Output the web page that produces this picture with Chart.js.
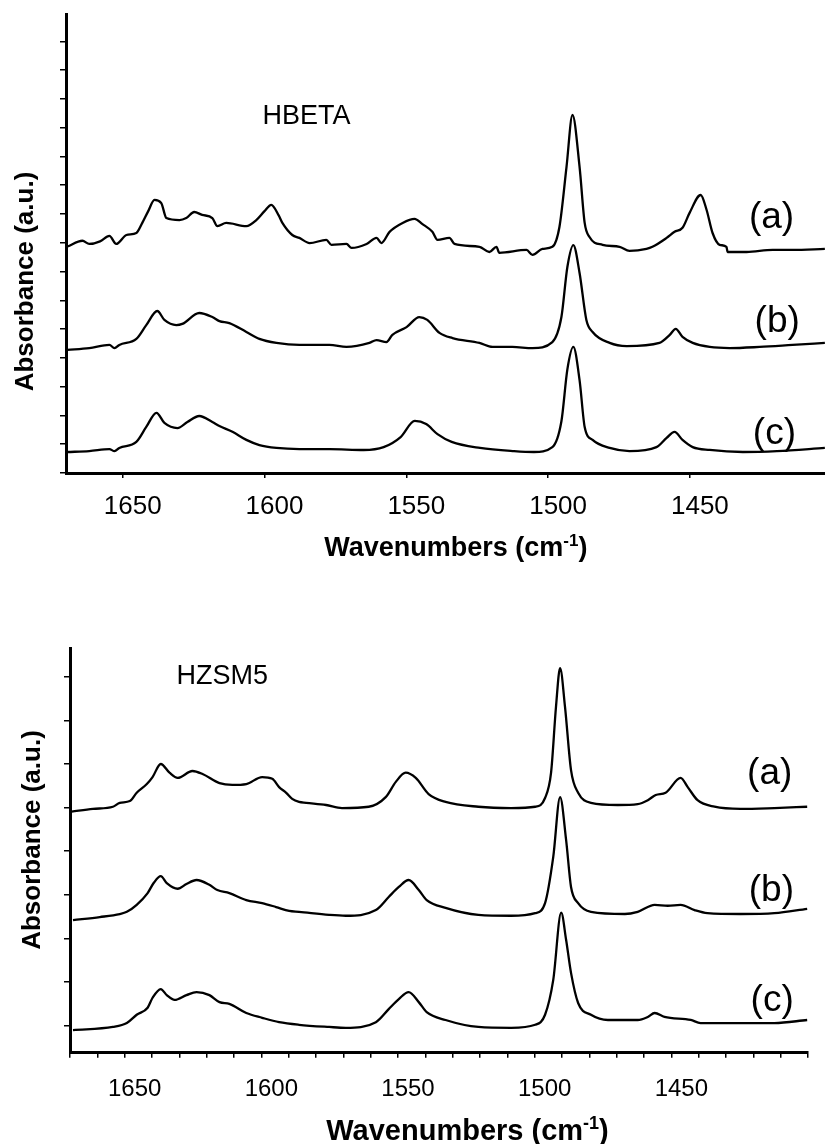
<!DOCTYPE html>
<html>
<head>
<meta charset="utf-8">
<script src="https://cdn.jsdelivr.net/npm/chart.js@4/dist/chart.umd.min.js"></script>
<style>
  html, body { margin: 0; background: #fff; overflow: hidden; }
  #hbeta { position: absolute; left: 0; top: 0; }
  #hzsm5 { position: absolute; left: 0; top: 575px; }
</style>
</head>
<body>
<canvas id="hbeta" width="830" height="575"></canvas>
<canvas id="hzsm5" width="825" height="569"></canvas>
<script>
const FONT = "'Liberation Sans', Arial, sans-serif";
const X_LABELS = [1650, 1600, 1550, 1500, 1450];
const TAGS = ["(a)", "(b)", "(c)"];

// ---- HBETA spectra (wavenumber cm-1, absorbance a.u.) ----
const hbetaA_wn = [1669.5,1664.2,1661.8,1658,1654.7,1652.3,1648.7,1645.2,1643.1,1641,1638.8,1636.4,1634.6,1630.0,1627.6,1624.8,1622.0,1618.4,1616.6,1613.5,1606.4,1602.9,1600,1597.6,1595,1593.7,1590.2,1587.7,1584.1,1578.2,1576.4,1571.1,1569.3,1564.0,1560.5,1558.8,1555.9,1551.3,1547.1,1544.3,1540.8,1539.0,1534.8,1533.0,1524.2,1520.7,1518.2,1517.2,1507.6,1505.5,1502.0,1498.5,1496.0,1493.5,1491.4,1488.9,1487.1,1485.4,1480.8,1474.8,1471.3,1465.3,1463.2,1458.2,1455.4,1452.6,1450.1,1446.2,1444.1,1442.0,1439.5,1437.1,1436.7,1430.0,1420.8,1413.8,1402.4];
const hbetaA_abs = [7.87,8.07,7.96,8.05,8.24,7.96,8.27,8.34,8.69,9.10,9.49,9.38,8.86,8.79,8.86,9.07,8.97,8.86,8.58,8.69,8.58,8.79,9.10,9.32,8.95,8.69,8.27,8.17,7.99,8.10,7.93,7.96,7.82,7.96,8.17,7.99,8.38,8.69,8.83,8.65,8.38,8.10,8.17,7.96,7.86,7.68,7.86,7.65,7.75,7.58,7.79,7.86,8.55,10.64,12.44,10.64,8.69,8.20,7.93,7.86,7.72,7.79,7.86,8.17,8.38,8.52,9.04,9.66,9.14,8.34,7.93,7.86,7.68,7.68,7.75,7.75,7.79];

const hbetaB_wn = [1669.5,1661.8,1654.7,1652.9,1651.2,1645.2,1641.7,1637.8,1635.3,1631.1,1629.0,1623.0,1618.4,1615.9,1612.4,1606.4,1601.8,1595.8,1587.7,1577.1,1571.1,1563.0,1560.5,1557.0,1554.9,1549.9,1545.4,1542.6,1538.3,1533.7,1524.2,1519.6,1512.6,1505.5,1498.5,1495.3,1493.2,1491.1,1488.9,1486.5,1484.3,1478.3,1472.3,1460.7,1457.1,1455.0,1452.6,1449.0,1443.0,1436.0,1425.4,1413.8,1402.4];
const hbetaB_abs = [4.28,4.34,4.45,4.34,4.45,4.66,5.14,5.63,5.32,5.14,5.18,5.56,5.42,5.28,5.21,4.90,4.66,4.52,4.45,4.45,4.38,4.52,4.62,4.55,4.80,5.07,5.42,5.32,4.87,4.69,4.52,4.38,4.38,4.34,4.55,5.42,7.16,7.92,6.95,5.32,4.90,4.52,4.41,4.52,4.80,5.01,4.73,4.52,4.38,4.34,4.38,4.45,4.52];

const hbetaC_wn = [1669.5,1661.8,1654.7,1652.9,1651.2,1645.2,1641.7,1638.1,1635.3,1630.7,1627.2,1623.0,1618.4,1615.9,1611.3,1606.4,1601.8,1595.8,1587.7,1577,1565,1558,1552,1547,1543,1539,1534,1524,1512,1505,1498.5,1495.3,1493.2,1491.1,1488.9,1487.1,1484.3,1478.3,1471.3,1461.8,1458.2,1455.4,1452.6,1449.0,1443.0,1431.3,1419.3,1402.4];
const hbetaC_abs = [0.73,0.76,0.83,0.76,0.87,1.08,1.60,2.09,1.74,1.56,1.77,1.98,1.77,1.63,1.43,1.15,0.97,0.87,0.83,0.83,0.80,0.90,1.25,1.81,1.70,1.35,1.08,0.87,0.76,0.73,0.90,1.80,3.60,4.38,3.23,1.60,1.15,0.87,0.76,0.90,1.22,1.43,1.15,0.90,0.80,0.73,0.76,0.87];

// ---- HZSM5 spectra ----
const hzsmA_wn = [1669.4,1661.6,1654.3,1651.8,1648.1,1645.6,1641.9,1639.8,1636.8,1633.6,1630.6,1625.2,1621.5,1615.3,1610.6,1605.5,1599.7,1596.0,1593.5,1590.9,1588.7,1586.2,1583.6,1576.3,1570.5,1560.7,1554.5,1550.8,1547.2,1543.5,1538.8,1532.6,1520.6,1508.6,1499.8,1496.2,1494.0,1492.2,1490.7,1488.9,1486.7,1484.1,1479.4,1469.6,1462.3,1458.6,1455.7,1452.1,1446.6,1444.0,1440.4,1434.2,1424.7,1412.3,1400.3];
const hzsmA_abs = [4.91,4.97,5.02,5.11,5.15,5.34,5.54,5.70,6.00,5.80,5.68,5.84,5.77,5.56,5.52,5.54,5.70,5.66,5.47,5.34,5.20,5.13,5.11,5.06,4.99,5.02,5.24,5.59,5.80,5.68,5.31,5.13,5.02,4.99,5.02,5.22,5.80,7.31,8.20,7.31,5.86,5.34,5.11,5.06,5.08,5.17,5.29,5.34,5.68,5.47,5.17,5.02,4.97,4.99,5.02];

const hzsmB_wn = [1668.9,1659.1,1651.8,1649.2,1645.6,1641.6,1639.4,1636.8,1634.6,1630.6,1627.4,1623.7,1619.0,1616.1,1611.7,1605.5,1599.7,1594.6,1589.8,1586.2,1575.2,1569.1,1558.1,1553.4,1549.7,1546.1,1542.4,1539.5,1532.6,1520.6,1508.6,1499.8,1496.2,1493.2,1490.7,1488.5,1486.7,1484.1,1479.4,1467.0,1462.3,1456.1,1451.3,1446.6,1441.5,1436.8,1424.7,1412.3,1400.3];
const hzsmB_abs = [2.42,2.49,2.56,2.61,2.77,3.04,3.27,3.43,3.27,3.14,3.25,3.34,3.23,3.11,3.04,2.88,2.81,2.72,2.63,2.61,2.54,2.52,2.65,2.95,3.18,3.34,3.11,2.88,2.70,2.54,2.52,2.58,2.81,3.87,5.24,4.26,3.18,2.81,2.61,2.56,2.61,2.77,2.75,2.77,2.65,2.58,2.56,2.58,2.68];

const hzsmC_wn = [1668.9,1654.3,1649.2,1645.6,1641.6,1639.8,1636.8,1634.6,1631.7,1627.4,1623.7,1619.0,1615.3,1611.7,1605.5,1599.7,1593.5,1586.2,1575.2,1569.1,1558.1,1553.4,1549.7,1546.1,1542.4,1539.5,1532.6,1520.6,1508.6,1499.8,1496.2,1493.2,1490.3,1488.5,1486.7,1484.1,1479.4,1473.2,1462.3,1458.6,1456.1,1452.5,1442.9,1439.3,1424.7,1412.3,1400.3];
const hzsmC_abs = [-0.10,-0.03,0.06,0.25,0.41,0.64,0.84,0.70,0.59,0.70,0.77,0.70,0.54,0.50,0.29,0.18,0.08,0.02,-0.03,-0.05,0.08,0.38,0.61,0.77,0.54,0.31,0.13,-0.03,-0.05,0.02,0.25,1.05,2.59,1.97,1.21,0.52,0.25,0.13,0.13,0.20,0.29,0.20,0.13,0.06,0.06,0.06,0.13];

// tag positions in data units
const hbetaTag_wn = [1421.2, 1419.2, 1420.2];
const hbetaTag_abs = [8.88, 5.27, 1.36];
const hzsmTag_wn = [1414.0, 1413.4, 1413.1];
const hzsmTag_abs = [5.77, 3.10, 0.57];

const pts = (wn, abs) => wn.map((w, i) => ({ x: w, y: abs[i] }));

const textPlugin = {
  id: "texts",
  afterDraw(chart, args, o) {
    const { ctx, scales: { x, y } } = chart;
    ctx.save();
    ctx.fillStyle = "#000";
    ctx.textBaseline = "middle";

    ctx.font = `27px ${FONT}`;
    ctx.textAlign = "left";
    ctx.fillText(o.name, x.getPixelForValue(o.nameAt[0]), y.getPixelForValue(o.nameAt[1]));

    ctx.font = `37px ${FONT}`;
    ctx.textAlign = "center";
    TAGS.forEach((t, i) => ctx.fillText(t, x.getPixelForValue(o.tagWn[i]), y.getPixelForValue(o.tagAbs[i])));

    // y title
    ctx.save();
    ctx.translate(o.yTitle[0], o.yTitle[1]);
    ctx.rotate(-Math.PI / 2);
    ctx.font = `bold 26px ${FONT}`;
    ctx.textBaseline = "alphabetic";
    ctx.fillText("Absorbance (a.u.)", 0, 0);
    ctx.restore();

    // x title with superscript
    const [cx, base, sz] = o.xTitle;
    ctx.textBaseline = "alphabetic";
    ctx.textAlign = "left";
    const f1 = `bold ${sz}px ${FONT}`, f2 = `bold ${Math.round(sz * 0.62)}px ${FONT}`;
    ctx.font = f1;
    const w1 = ctx.measureText("Wavenumbers (cm").width, w3 = ctx.measureText(")").width;
    ctx.font = f2;
    const w2 = ctx.measureText("-1").width;
    let px = cx - (w1 + w2 + w3) / 2;
    ctx.font = f1; ctx.fillText("Wavenumbers (cm", px, base); px += w1;
    ctx.font = f2; ctx.fillText("-1", px, base - sz * 0.38); px += w2;
    ctx.font = f1; ctx.fillText(")", px, base);
    ctx.restore();
  }
};

function spectrumChart(id, o) {
  return new Chart(document.getElementById(id), {
    type: "line",
    data: {
      datasets: o.series.map(s => ({
        data: s, borderColor: "#000", borderWidth: 2.3, pointRadius: 0,
        cubicInterpolationMode: "monotone", fill: false
      }))
    },
    options: {
      responsive: false, animation: false, devicePixelRatio: 1,
      layout: { padding: { top: o.padTop, right: o.padRight, left: 0, bottom: 0 } },
      plugins: { legend: { display: false }, tooltip: { enabled: false }, texts: o.texts },
      scales: {
        x: {
          type: "linear", reverse: true, min: o.xMin, max: 1670,
          afterFit: s => { s.height = o.xAxisH; },
          border: { color: "#000", width: 3 },
          grid: { drawOnChartArea: false, tickLength: 5, color: "#000", lineWidth: 1.5 },
          ticks: {
            stepSize: o.xStep, autoSkip: false, includeBounds: false, maxRotation: 0,
            labelOffset: 10, padding: o.tickPad, color: "#000",
            font: { family: FONT, size: o.tickSize },
            callback: v => X_LABELS.includes(v) ? String(v) : ""
          }
        },
        y: {
          min: o.yMin, max: o.yMax,
          afterFit: s => { s.width = o.yAxisW; },
          border: { color: "#000", width: 3 },
          grid: { drawOnChartArea: false, tickLength: 6, color: "#000", lineWidth: 1.5 },
          ticks: { display: false, stepSize: 1, includeBounds: false, autoSkip: false }
        }
      }
    },
    plugins: [textPlugin]
  });
}

spectrumChart("hbeta", {
  series: [pts(hbetaA_wn, hbetaA_abs), pts(hbetaB_wn, hbetaB_abs), pts(hbetaC_wn, hbetaC_abs)],
  xMin: 1402, xStep: 50, yMin: 0, yMax: 15.95,
  padTop: 14, padRight: 4, xAxisH: 102, yAxisW: 66, tickPad: 13, tickSize: 26,
  texts: { name: "HBETA", nameAt: [1600.7, 12.37], tagWn: hbetaTag_wn, tagAbs: hbetaTag_abs,
           yTitle: [32.5, 281.5], xTitle: [455.8, 556, 27] }
});

spectrumChart("hzsm5", {
  series: [pts(hzsmA_wn, hzsmA_abs), pts(hzsmB_wn, hzsmB_abs), pts(hzsmC_wn, hzsmC_abs)],
  xMin: 1400, xStep: 10, yMin: -0.62, yMax: 8.66,
  padTop: 73, padRight: 14, xAxisH: 91.3, yAxisW: 70, tickPad: 17, tickSize: 24,
  texts: { name: "HZSM5", nameAt: [1631.0, 8.0], tagWn: hzsmTag_wn, tagAbs: hzsmTag_abs,
           yTitle: [40, 265], xTitle: [467.5, 565, 29] }
});
</script>
</body>
</html>
